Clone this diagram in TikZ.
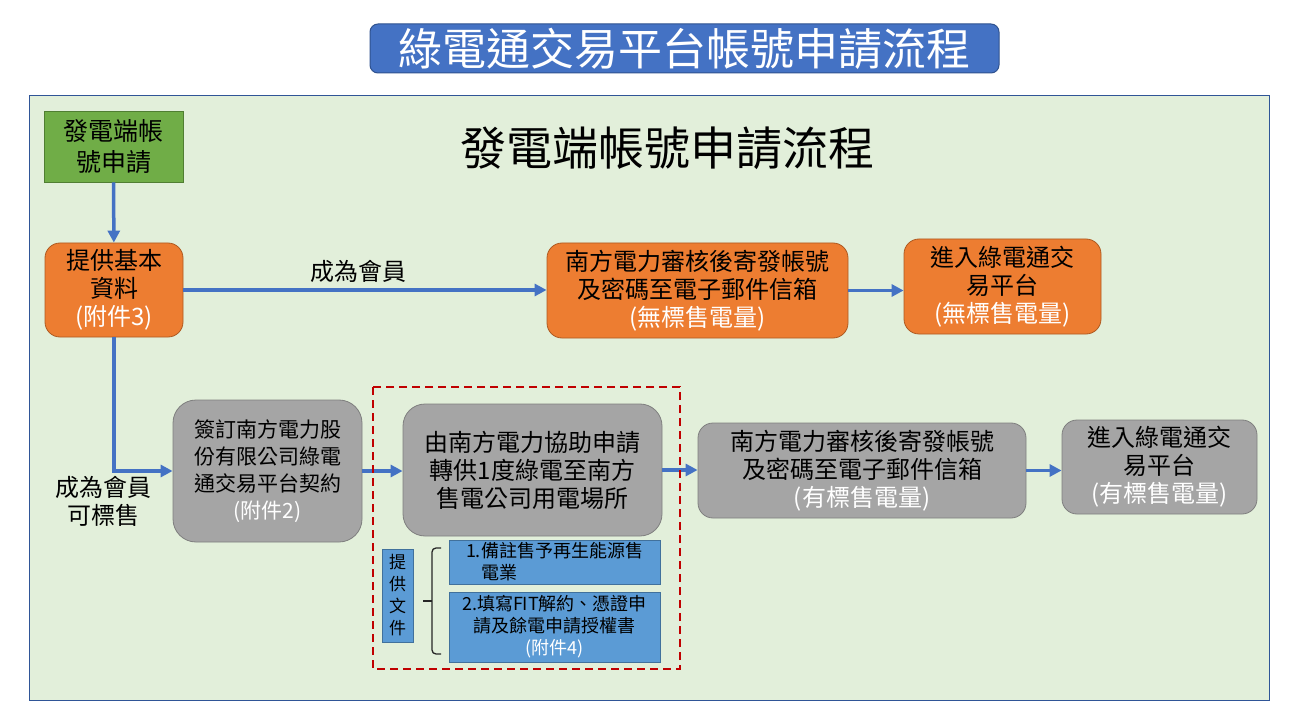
\documentclass[tikz,border=0pt]{standalone}
\usepackage{fontspec}
\setmainfont{Noto Sans CJK TC}
\usepackage{xcolor}
\usepackage{tikz}
\usetikzlibrary{arrows.meta}
\definecolor{panel}{HTML}{E2EFDA}
\definecolor{frame}{HTML}{2F5597}
\definecolor{blue}{HTML}{4472C4}
\definecolor{bluedark}{HTML}{2F528F}
\definecolor{orange}{HTML}{ED7D31}
\definecolor{orangedark}{HTML}{AE5A21}
\definecolor{green}{HTML}{70AD47}
\definecolor{greendark}{HTML}{507E32}
\definecolor{gray}{HTML}{A5A5A5}
\definecolor{graydark}{HTML}{7F7F7F}
\definecolor{doc}{HTML}{5B9BD5}
\definecolor{docdark}{HTML}{41719C}
\definecolor{red}{HTML}{C00000}
\newcommand{\wtext}[1]{\textcolor{white}{#1}}
\tikzset{
  flow/.style={draw=blue, line width=3.5pt, -{Triangle[length=12pt,width=12pt]}},
  box/.style={rounded corners=15pt, line width=0.8pt, align=center, inner sep=0pt, font=\fontsize{24}{28}\selectfont},
  obox/.style={box, fill=orange, draw=orangedark},
  gbox/.style={box, fill=gray, draw=graydark},
  dbox/.style={fill=doc, draw=docdark, line width=0.8pt, inner sep=0pt, font=\fontsize{18}{22}\selectfont},
  lbl/.style={font=\fontsize{24}{28}\selectfont, align=center, inner sep=0pt},
  dashbox/.style={draw=red, line width=2pt, dash pattern=on 8pt off 5pt},
  docbrace/.style={draw=black!85, line width=1.3pt, rounded corners=4pt}
}
\begin{document}
\begin{tikzpicture}[x=1pt, y=-1pt]
  \useasboundingbox (0,0) rectangle (1301,719);
  \fill[white] (0,0) rectangle (1301,719);

  \node[fill=blue, draw=bluedark, line width=1pt, rounded corners=8pt, inner sep=0pt,
        minimum width=629pt, minimum height=49pt, text height=39pt, text depth=5pt,
        text=white, font=\fontsize{44}{48}\selectfont] (title) at (684.5,48.5) {綠電通交易平台帳號申請流程};

  \draw[fill=panel, draw=frame, line width=1pt] (29,96) rectangle (1269,700);
  \node[font=\fontsize{46}{50}\selectfont, inner sep=0pt] (heading) at (667,148) {發電端帳號申請流程};

  \node[box, rounded corners=0pt, fill=green, draw=greendark, font=\fontsize{25}{31}\selectfont,
        minimum width=139pt, minimum height=71pt] (apply) at (113.5,146.5) {發電端帳\\號申請};
  \node[obox, minimum width=138pt, minimum height=94pt] (basic) at (114,290) {提供基本\\資料\\\wtext{(附件3)}};
  \node[obox, minimum width=301pt, minimum height=95pt] (review1) at (697.5,290.5) {南方電力審核後寄發帳號\\及密碼至電子郵件信箱\\\wtext{(無標售電量)}};
  \node[obox, minimum width=197pt, minimum height=95pt] (enter1) at (1002.5,286.5) {進入綠電通交\\易平台\\\wtext{(無標售電量)}};

  \node[gbox, rounded corners=23pt, font=\fontsize{21}{27}\selectfont, minimum width=189pt, minimum height=142pt] (contract) at (267.5,471) {簽訂南方電力股\\份有限公司綠電\\通交易平台契約\\\wtext{(附件2)}};
  \node[gbox, rounded corners=22pt, minimum width=259pt, minimum height=132pt] (assist) at (532.5,470) {由南方電力協助申請\\轉供1度綠電至南方\\售電公司用電場所};
  \node[gbox, minimum width=328pt, minimum height=95pt] (review2) at (862,470.5) {南方電力審核後寄發帳號\\及密碼至電子郵件信箱\\\wtext{(有標售電量)}};
  \node[gbox, minimum width=195pt, minimum height=94pt] (enter2) at (1159.5,467) {進入綠電通交\\易平台\\\wtext{(有標售電量)}};

  \node[dbox, align=center, font=\fontsize{17}{22}\selectfont, minimum width=31pt, minimum height=93pt] (docs) at (397.5,595.5) {提\\供\\文\\件};
  \node[dbox, align=left, minimum width=211pt, minimum height=44pt] (doc1) at (554.5,562) {1.備註售予再生能源售\\\phantom{1.}電業};
  \node[dbox, align=center, minimum width=211pt, minimum height=70pt] (doc2) at (554.5,627) {2.填寫FIT解約、憑證申\\請及餘電申請授權書\\\wtext{(附件4)}};
  \coordinate (bracetop) at (441,548);
  \coordinate (bracemid) at (423,601);
  \coordinate (bracebot) at (441,654);
  \draw[docbrace] (bracetop) -- (432,548) -- (432,654) -- (bracebot);
  \draw[docbrace] (432,601) -- (bracemid);

  \node[lbl] (member) at (358,271) {成為會員};
  \node[lbl] (seller) at (103,501) {成為會員\\可標售};

  \draw[flow] (apply) -- (basic);
  \draw[flow] (basic.east) -- (basic.east -| review1.west);
  \draw[flow] (review1.east) -- (review1.east -| enter1.west);
  \draw[flow] (basic.south) |- (contract.west);
  \draw[flow] (contract.east) -- (contract.east -| assist.west);
  \draw[flow] (assist.east) -- (assist.east -| review2.west);
  \draw[flow] (review2.east) -- (review2.east -| enter2.west);

  \draw[dashbox] (373,387) rectangle (680,669);
\end{tikzpicture}
\end{document}
